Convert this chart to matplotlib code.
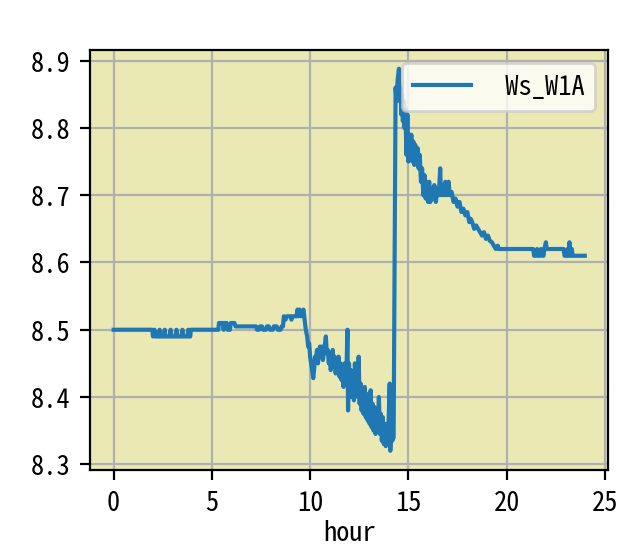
import matplotlib
matplotlib.use("Agg")
import matplotlib.pyplot as plt

plt.rcParams['font.family'] = ['Noto Sans Mono CJK SC', 'DejaVu Sans Mono']
plt.rcParams['font.size'] = 9.5
plt.rcParams['axes.unicode_minus'] = False

series_name = ' Ws_W1A'
x_label = 'hour'

hour = [
    0.00, 1.97,
    2.00, 2.08, 2.12, 2.30, 2.34, 2.38, 2.55, 2.60, 2.64, 2.85, 2.90, 2.94,
    3.15, 3.20, 3.24, 3.45, 3.50, 3.54, 3.75, 3.80, 3.84, 3.90, 3.93,
    5.33, 5.36, 5.55, 5.60, 5.65, 5.75, 5.80, 5.92, 5.96, 6.15, 6.20,
    7.25, 7.30, 7.40, 7.45, 7.55, 7.60, 7.75, 7.80, 7.90, 7.95, 8.10, 8.15,
    8.30, 8.35, 8.50, 8.55, 8.62,
    8.66, 8.75, 8.80, 9.00, 9.05, 9.10, 9.30, 9.36, 9.40, 9.46, 9.52, 9.60,
    9.66, 9.72,
    9.78, 9.85, 9.90, 9.95, 10.00, 10.05, 10.10, 10.16, 10.20, 10.25, 10.30,
    10.35, 10.40, 10.45, 10.50, 10.55, 10.60, 10.65, 10.72, 10.80, 10.85,
    10.90, 10.95, 11.00, 11.05, 11.10, 11.15, 11.20, 11.25, 11.30, 11.35,
    11.40, 11.45, 11.50, 11.55, 11.60, 11.65, 11.70, 11.75, 11.80, 11.85,
    11.90, 11.93, 11.98, 12.02, 12.07, 12.12, 12.18, 12.23, 12.28, 12.33,
    12.38, 12.43, 12.47, 12.52, 12.57, 12.62, 12.67, 12.72, 12.78, 12.83,
    12.88, 12.93, 12.98, 13.03, 13.08, 13.13, 13.18, 13.23, 13.28, 13.33,
    13.38, 13.43, 13.50, 13.55, 13.60, 13.65, 13.70, 13.75, 13.80, 13.85,
    13.90, 13.95, 14.00, 14.05, 14.08, 14.12, 14.18, 14.25,
    14.35, 14.40, 14.45, 14.52, 14.56, 14.60, 14.64, 14.68, 14.72, 14.76,
    14.80, 14.85, 14.90, 14.95, 15.00, 15.05, 15.10, 15.15, 15.20, 15.25,
    15.30, 15.35, 15.40, 15.47, 15.52, 15.58, 15.64, 15.70, 15.76, 15.82,
    15.88, 15.94, 16.00, 16.06, 16.12, 16.18, 16.25, 16.32, 16.40, 16.48,
    16.55, 16.62, 16.66, 16.72, 16.80, 16.88, 16.95, 17.05, 17.10, 17.20,
    17.30, 17.40, 17.50, 17.60, 17.70, 17.80, 17.90, 18.00, 18.10, 18.17,
    18.25, 18.35, 18.45, 18.55, 18.65, 18.75, 18.85, 18.95, 19.05, 19.15,
    19.25, 19.35, 19.45, 19.55, 19.60,
    21.35, 21.40, 21.50, 21.55, 21.62, 21.70, 21.75, 21.82, 21.88, 21.92,
    22.00, 22.04, 22.90, 22.95, 23.05, 23.10, 23.15, 23.20, 23.25, 23.32,
    23.36, 23.98,
]

ws_w1a = [
    8.50, 8.50,
    8.49, 8.50, 8.49, 8.49, 8.50, 8.49, 8.49, 8.50, 8.49, 8.49, 8.50, 8.49,
    8.49, 8.50, 8.49, 8.49, 8.50, 8.49, 8.49, 8.50, 8.49, 8.49, 8.50,
    8.50, 8.51, 8.51, 8.50, 8.51, 8.51, 8.50, 8.50, 8.51, 8.51, 8.505,
    8.505, 8.50, 8.50, 8.505, 8.505, 8.50, 8.50, 8.505, 8.505, 8.50, 8.50, 8.505,
    8.505, 8.50, 8.50, 8.505, 8.505,
    8.52, 8.515, 8.52, 8.52, 8.515, 8.52, 8.52, 8.53, 8.52, 8.53, 8.52, 8.525,
    8.53, 8.515,
    8.50, 8.49, 8.475, 8.48, 8.46, 8.45, 8.44, 8.428, 8.44, 8.46, 8.455,
    8.47, 8.45, 8.465, 8.475, 8.46, 8.475, 8.455, 8.47, 8.49, 8.465,
    8.47, 8.45, 8.465, 8.44, 8.46, 8.47, 8.445, 8.46, 8.435, 8.455,
    8.44, 8.46, 8.43, 8.45, 8.425, 8.44, 8.415, 8.45, 8.42, 8.44,
    8.50, 8.38, 8.45, 8.41, 8.44, 8.40, 8.43, 8.395, 8.45, 8.41,
    8.44, 8.40, 8.46, 8.39, 8.42, 8.38, 8.41, 8.375, 8.415, 8.37,
    8.40, 8.365, 8.405, 8.36, 8.41, 8.355, 8.39, 8.35, 8.385, 8.345,
    8.38, 8.35, 8.40, 8.345, 8.375, 8.335, 8.37, 8.33, 8.36, 8.327,
    8.36, 8.33, 8.37, 8.42, 8.32, 8.35, 8.335, 8.34,
    8.86, 8.84, 8.87, 8.888, 8.84, 8.86, 8.82, 8.85, 8.81, 8.84,
    8.80, 8.83, 8.76, 8.82, 8.75, 8.79, 8.76, 8.79, 8.75, 8.78,
    8.745, 8.775, 8.75, 8.77, 8.74, 8.76, 8.72, 8.74, 8.70, 8.73,
    8.695, 8.72, 8.69, 8.72, 8.69, 8.71, 8.695, 8.715, 8.69, 8.71,
    8.70, 8.74, 8.70, 8.715, 8.70, 8.72, 8.70, 8.72, 8.70, 8.705,
    8.69, 8.695, 8.683, 8.69, 8.675, 8.68, 8.67, 8.675, 8.66, 8.665,
    8.66, 8.65, 8.655, 8.65, 8.645, 8.64, 8.645, 8.635, 8.64, 8.632,
    8.63, 8.625, 8.62, 8.625, 8.62,
    8.62, 8.61, 8.61, 8.62, 8.61, 8.61, 8.62, 8.61, 8.61, 8.62,
    8.63, 8.62, 8.62, 8.61, 8.61, 8.62, 8.61, 8.63, 8.61, 8.62,
    8.61, 8.61,
]

dpi = 200
fig = plt.figure(figsize=(620.4 / dpi, 553.4 / dpi), dpi=dpi)
ax = fig.add_axes([0.1452, 0.1501, 0.8354, 0.7595])
ax.set_facecolor('#eae9b4')
ax.plot(hour, ws_w1a, color='#1f77b4', linewidth=1.5, label=series_name)
ax.grid(True, color='#b0b0b0', linewidth=0.8)
ax.set_xlabel(x_label, labelpad=1.0)
ax.legend(loc='upper right', handlelength=2.2)
fig.savefig('out.png', dpi=dpi)
